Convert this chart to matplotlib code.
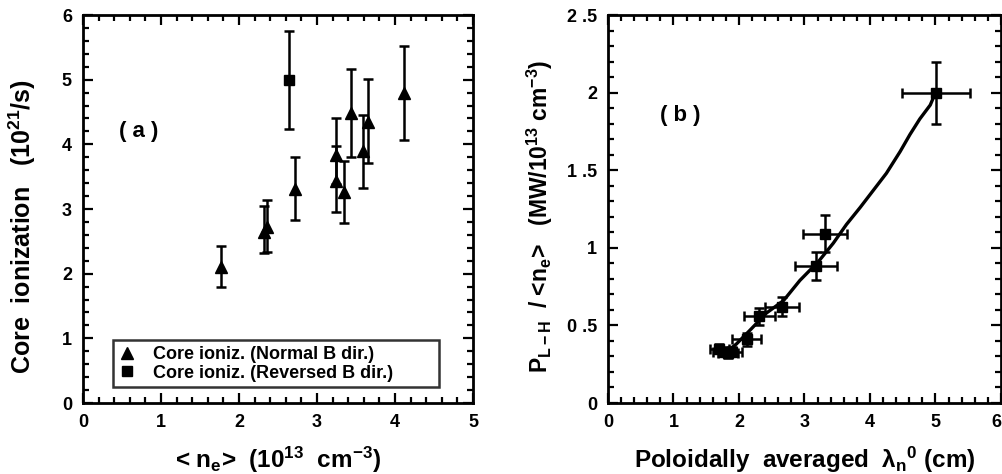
import matplotlib
matplotlib.use("Agg")
import matplotlib.pyplot as plt
from matplotlib.ticker import MultipleLocator

plt.rcParams['font.family'] = ['Liberation Sans', 'DejaVu Sans']
plt.rcParams['font.weight'] = 'bold'
plt.rcParams['mathtext.fontset'] = 'custom'
plt.rcParams['mathtext.rm'] = 'Liberation Sans:bold'
plt.rcParams['mathtext.it'] = 'Liberation Sans:bold'
plt.rcParams['mathtext.bf'] = 'Liberation Sans:bold'

# (a) core ionization vs line-averaged density
norm_ne = [1.77, 2.32, 2.36, 2.72, 3.24, 3.24, 3.35, 3.44, 3.59, 3.66, 4.12]
norm_ion = [2.11, 2.65, 2.72, 3.31, 3.84, 3.43, 3.27, 4.48, 3.90, 4.35, 4.79]
norm_lo = [0.31, 0.33, 0.38, 0.48, 0.45, 0.48, 0.49, 0.68, 0.57, 0.64, 0.72]
norm_hi = [0.32, 0.40, 0.42, 0.50, 0.56, 0.54, 0.47, 0.68, 0.56, 0.66, 0.73]

rev_ne = [2.64]
rev_ion = [5.0]
rev_lo = [0.77]
rev_hi = [0.76]

# (b) P_LH / <ne> vs poloidally averaged decay length
lam = [1.70, 1.76, 1.83, 1.90, 2.12, 2.31, 2.65, 3.18, 3.31, 5.01]
plh = [0.35, 0.33, 0.32, 0.33, 0.41, 0.56, 0.62, 0.88, 1.09, 2.00]
lam_err = [0.15, 0.15, 0.15, 0.15, 0.22, 0.24, 0.26, 0.32, 0.34, 0.52]
plh_err = [0.03, 0.03, 0.03, 0.03, 0.04, 0.055, 0.06, 0.09, 0.12, 0.20]

fit_x = [1.75, 1.81, 1.96, 2.17, 2.42, 2.68, 2.93, 3.21, 3.44, 3.64, 3.85, 4.05,
         4.25, 4.46, 4.61, 4.76, 4.92, 5.0]
fit_y = [0.35, 0.33, 0.38, 0.47, 0.58, 0.66, 0.79, 0.91, 1.03, 1.15, 1.26, 1.37,
         1.48, 1.62, 1.73, 1.83, 1.92, 2.0]

b_xticks = [0, 1, 2, 3, 4, 5, 6]
b_yticks = [0, 0.5, 1, 1.5, 2, 2.5]
b_yticklabels = ['0', '0 .5', '1', '1 .5', '2', '2 .5']

fig = plt.figure(figsize=(10.03, 4.74), dpi=100)
W, H = 1003, 474
ax1 = fig.add_axes([83 / W, 1 - 403 / H, 390 / W, 388 / H])
ax2 = fig.add_axes([608 / W, 1 - 403 / H, 393 / W, 388 / H])

ekw = dict(ecolor='black', elinewidth=1.8, capsize=3.5, capthick=1.8, linestyle='none', color='black')

ax1.errorbar(rev_ne, rev_ion, yerr=[rev_lo, rev_hi], marker='s', markersize=7.5,
             label='Core ioniz. (Reversed B dir.)', **ekw)
ax1.errorbar(norm_ne, norm_ion, yerr=[norm_lo, norm_hi], marker='^', markersize=9,
             label='Core ioniz. (Normal B dir.)', **ekw)

ax1.set_xlim(0, 5)
ax1.set_ylim(0, 6)
ax1.xaxis.set_major_locator(MultipleLocator(1))
ax1.xaxis.set_minor_locator(MultipleLocator(0.2))
ax1.yaxis.set_major_locator(MultipleLocator(1))
ax1.yaxis.set_minor_locator(MultipleLocator(0.2))
ax1.text(0.72, 4.2, '( a )', fontsize=16, fontweight='bold', ha='center', va='center')
ax1.set_xlabel('< n$_e$>  (10$^{13}$  cm$^{-3}$)', fontsize=17.5, fontweight='bold', labelpad=10)
ax1.set_ylabel('Core  ionization   (10$^{21}$/s)', fontsize=18, fontweight='bold')
ax1.yaxis.set_label_coords(-0.115, 0.455)

handles, labels = ax1.get_legend_handles_labels()
handles = [h[0] for h in handles][::-1]
labels = labels[::-1]
leg = ax1.legend(handles, labels, loc='lower left', bbox_to_anchor=(0.077, 0.041, 0.835, 0.129),
                 mode='expand', fontsize=13, frameon=True, fancybox=False, handlelength=0.9,
                 handletextpad=1.0, borderpad=0.3, labelspacing=0.1, borderaxespad=0)
leg.get_frame().set_edgecolor('black')
leg.get_frame().set_linewidth(1.8)

ax2.plot(fit_x, fit_y, color='black', lw=2.4)
ax2.errorbar(lam, plh, xerr=lam_err, yerr=plh_err, marker='s', markersize=6.5, **ekw)
ax2.set_xlim(0, 6)
ax2.set_ylim(0, 2.5)
ax2.set_xticks(b_xticks)
ax2.xaxis.set_minor_locator(MultipleLocator(0.2))
ax2.yaxis.set_minor_locator(MultipleLocator(0.1))
ax2.set_yticks(b_yticks)
ax2.set_yticklabels(b_yticklabels)
ax2.text(1.1, 1.85, '( b )', fontsize=16, fontweight='bold', ha='center', va='center')
ax2.set_xlabel('Poloidally  averaged  $\\lambda_n$$^0$ (cm)', fontsize=17.5, fontweight='bold', labelpad=10)
ax2.set_ylabel('P$_{L-H}$  / <n$_e$>   (MW/10$^{13}$ cm$^{-3}$)', fontsize=16.5, fontweight='bold')
ax2.yaxis.set_label_coords(-0.135, 0.48)

for ax in (ax1, ax2):
    for s in ax.spines.values():
        s.set_linewidth(2)
    ax.tick_params(which='both', direction='in', top=True, right=True, width=1.6,
                   labelsize=13, pad=8)
    ax.tick_params(which='major', length=7)
    ax.tick_params(which='minor', length=4)
    for t in ax.get_xticklabels() + ax.get_yticklabels():
        t.set_fontweight('bold')

# keep the last tick label of (b) inside the canvas
ax2.xaxis.get_major_ticks()[-1].label1.set_horizontalalignment('right')

fig.savefig('out.png', dpi=100)
